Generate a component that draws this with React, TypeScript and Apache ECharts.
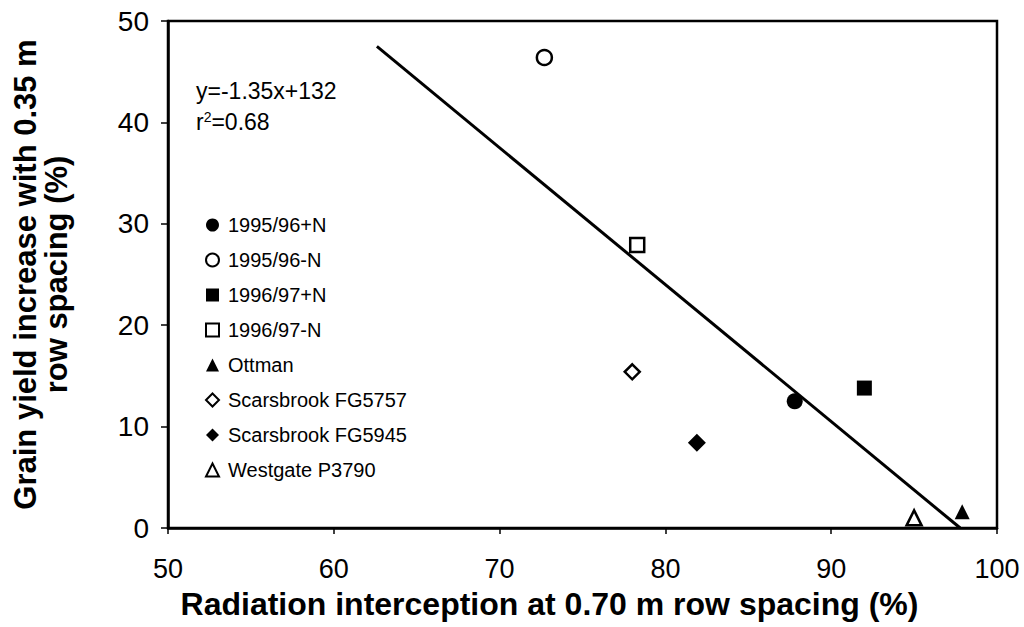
import React, { useEffect, useRef } from "react";
import * as echarts from "echarts";

const seriesNames = [
  "1995/96+N",
  "1995/96-N",
  "1996/97+N",
  "1996/97-N",
  "Ottman",
  "Scarsbrook FG5757",
  "Scarsbrook FG5945",
  "Westgate P3790",
];
const xValues = [87.8, 72.7, 92.0, 78.3, 97.9, 78.0, 81.9, 95.0];
const yValues = [12.5, 46.4, 13.8, 27.9, 1.6, 15.4, 8.4, 1.0];
const symbols = ["circle", "circle", "rect", "rect", "triangle", "diamond", "diamond", "triangle"];
const filled = [true, false, true, false, true, false, true, false];
const symbolSizes = [16, 15, 15, 14, 15, 15, 18, 15];

const slope = -1.35;
const intercept = 132;
const fitRange = [62.6, 97.78];
const xTicks = [50, 60, 70, 80, 90, 100];
const yTicks = [0, 10, 20, 30, 40, 50];

const FONT = "'Liberation Sans', Arial, sans-serif";

export default function App() {
  const ref = useRef<HTMLDivElement>(null);
  useEffect(() => {
    if (!ref.current) return;
    const chart = echarts.init(ref.current, undefined, { renderer: "svg" });
    const scatter = seriesNames.map((name, i) => ({
      name,
      type: "scatter",
      symbol: symbols[i],
      symbolSize: symbolSizes[i],
      itemStyle: filled[i]
        ? { color: "#000", borderColor: "#000", borderWidth: 0, opacity: 1 }
        : { color: "#fff", borderColor: "#000", borderWidth: 2.5, opacity: 1 },
      data: [[xValues[i], yValues[i]]],
      z: 5,
    }));
    chart.setOption({
      animation: false,
      backgroundColor: "#fff",
      textStyle: { fontFamily: FONT },
      grid: {
        left: 168,
        right: 27,
        top: 21,
        bottom: 99,
        containLabel: false,
        outerBoundsMode: "none",
        show: true,
        borderColor: "#000",
        borderWidth: 2.5,
      },
      legend: {
        data: seriesNames,
        orient: "vertical",
        left: 200,
        top: 210,
        itemWidth: 13,
        itemHeight: 13,
        itemGap: 15,
        textStyle: { fontSize: 20, color: "#000", fontFamily: FONT, padding: [0, 0, 0, 4] },
        selectedMode: false,
      },
      xAxis: {
        type: "value",
        min: xTicks[0],
        max: xTicks[xTicks.length - 1],
        interval: 10,
        name: "Radiation interception at 0.70 m row spacing (%)",
        nameLocation: "middle",
        nameGap: 60,
        nameTextStyle: {
          fontSize: 32,
          fontWeight: "bold",
          color: "#000",
          fontFamily: FONT,
          padding: [0, 66, 0, 0],
        },
        axisLine: { lineStyle: { color: "#000", width: 2.5 } },
        axisTick: { show: true, length: 6, lineStyle: { color: "#000", width: 1.5 } },
        axisLabel: { fontSize: 27, color: "#000", margin: 27, fontFamily: FONT },
        splitLine: { show: false },
      },
      yAxis: {
        type: "value",
        min: yTicks[0],
        max: yTicks[yTicks.length - 1],
        interval: 10,
        name: "Grain yield increase with 0.35 m\nrow spacing (%)",
        nameLocation: "middle",
        nameGap: 96,
        nameRotate: 90,
        nameTextStyle: { fontSize: 31, fontWeight: "bold", color: "#000", lineHeight: 31, fontFamily: FONT },
        axisLine: { lineStyle: { color: "#000", width: 2.5 } },
        axisTick: { show: true, length: 7, lineStyle: { color: "#000", width: 1.5 } },
        axisLabel: { fontSize: 28, color: "#000", margin: 19, fontFamily: FONT },
        splitLine: { show: false },
      },
      graphic: [
        {
          type: "text",
          left: 196,
          top: 79,
          style: { text: "y=-1.35x+132", fontSize: 23, fill: "#000", fontFamily: FONT },
        },
        {
          type: "text",
          left: 196,
          top: 110,
          style: {
            text: "r{sup|2}=0.68",
            fontSize: 23,
            fill: "#000",
            fontFamily: FONT,
            rich: { sup: { fontSize: 14, verticalAlign: "top", padding: [0, 0, 10, 0] } },
          },
        },
      ],
      series: [
        {
          name: "fit",
          type: "line",
          data: fitRange.map((x) => [x, slope * x + intercept]),
          symbol: "none",
          lineStyle: { color: "#000", width: 3 },
          z: 3,
        },
        ...scatter,
      ],
    });
    return () => chart.dispose();
  }, []);
  return <div ref={ref} style={{ width: 1024, height: 627, position: "absolute", left: 0, top: 0 }} />;
}
